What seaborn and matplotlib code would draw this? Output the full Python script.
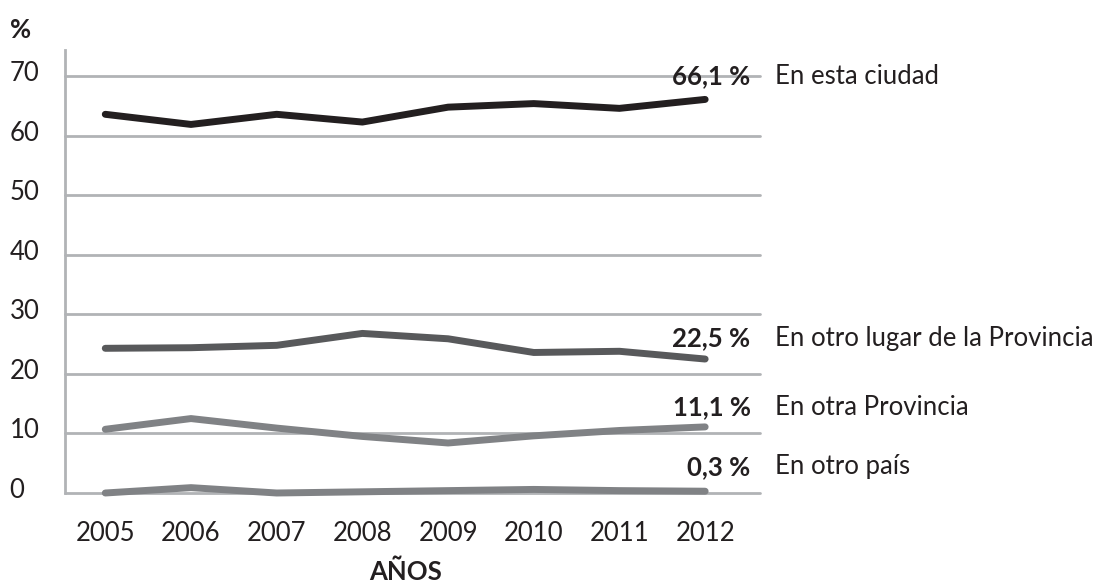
import matplotlib
matplotlib.use("Agg")
import matplotlib.pyplot as plt
import matplotlib.transforms as mtransforms
import seaborn as sns
import pandas as pd

years = [2005, 2006, 2007, 2008, 2009, 2010, 2011, 2012]
series_names = ["En esta ciudad", "En otro lugar de la Provincia", "En otra Provincia", "En otro país"]
esta_ciudad = [63.6, 61.9, 63.6, 62.3, 64.8, 65.4, 64.6, 66.1]
otro_lugar = [24.3, 24.4, 24.8, 26.8, 25.9, 23.6, 23.8, 22.5]
otra_provincia = [10.7, 12.5, 10.9, 9.5, 8.4, 9.6, 10.5, 11.1]
otro_pais = [0.0, 0.9, 0.0, 0.2, 0.4, 0.6, 0.4, 0.3]
end_labels = ["66,1 %", "22,5 %", "11,1 %", "0,3 %"]
y_ticks = [0, 10, 20, 30, 40, 50, 60, 70]

colors = ["#231f20", "#58595b", "#808285", "#808285"]
label_y = [70.0, 26.0, 14.4, 4.4]

df = pd.DataFrame({
    "Año": years * 4,
    "Valor": esta_ciudad + otro_lugar + otra_provincia + otro_pais,
    "Serie": sum([[n] * len(years) for n in series_names], []),
})

sns.set_theme(style="white")
plt.rcParams["font.family"] = ["Lato", "DejaVu Sans"]
text_color = "#231f20"
grid_color = "#b1b3b6"
fs = 18.5

fig = plt.figure(figsize=(10.99, 5.87), dpi=100)
ax = fig.add_axes([65 / 1099, 1 - 493 / 587, (760 - 65) / 1099, (493 - 50) / 587])

for v in y_ticks:
    ax.axhline(v, color=grid_color, lw=2.0, zorder=1)

sns.lineplot(data=df, x="Año", y="Valor", hue="Serie", palette=dict(zip(series_names, colors)),
             hue_order=series_names, linewidth=5.0, ax=ax, legend=False, zorder=3)
for line in ax.get_lines():
    line.set_solid_capstyle("round")
    line.set_solid_joinstyle("round")
    line.set_clip_on(False)

ax.set_xlim(2004.53, 2012.64)
ax.set_ylim(0, 74.4)
for s in ["top", "right", "bottom"]:
    ax.spines[s].set_visible(False)
ax.spines["left"].set_color(grid_color)
ax.spines["left"].set_linewidth(2.0)

ax.set_xticks(years)
ax.set_xticklabels([str(y) for y in years], fontsize=fs, color=text_color)
ax.tick_params(axis="x", length=0, pad=20)
ax.set_yticks(y_ticks)
ax.set_yticklabels([str(v) for v in y_ticks], fontsize=fs, color=text_color, ha="left")
ax.tick_params(axis="y", length=0, pad=40)
offset = mtransforms.ScaledTranslation(0, 5 / 100, fig.dpi_scale_trans)
for lab in ax.get_yticklabels():
    lab.set_transform(lab.get_transform() + offset)

ax.set_xlabel("AÑOS", fontsize=fs, fontweight="bold", color=text_color)
ax.xaxis.set_label_coords(0.49, -79 / 443)
ax.xaxis.label.set_va("center")
ax.set_ylabel("")
fig.text(10 / 1099, 1 - 30 / 587, "%", fontsize=fs, fontweight="bold", color=text_color, va="center", ha="left")

for name, lab, yv in zip(series_names, end_labels, label_y):
    ax.text(2012.53, yv, lab, fontsize=fs, fontweight="bold", color=text_color, ha="right", va="center",
            zorder=5, clip_on=False)
    ax.text(2012.82, yv, name, fontsize=fs, color=text_color, ha="left", va="center", clip_on=False)

fig.savefig("out.png", dpi=100)
